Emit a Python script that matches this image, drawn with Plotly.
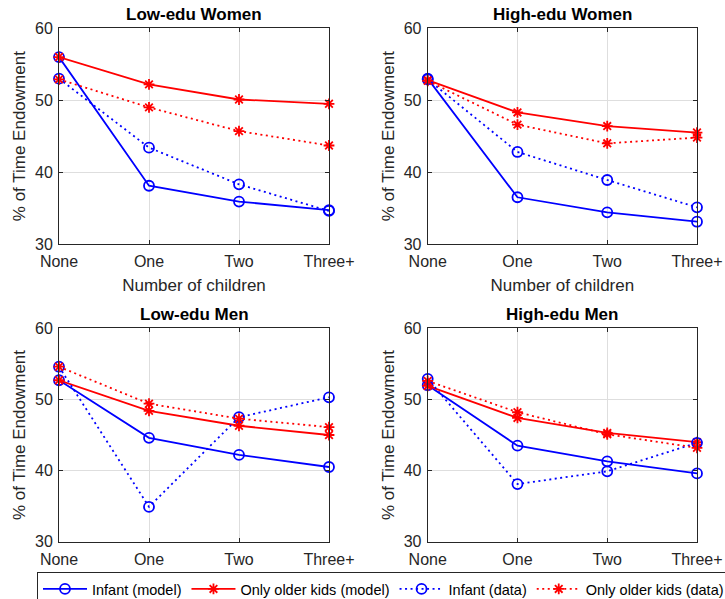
import plotly.graph_objects as go

categories = ["None", "One", "Two", "Three+"]
panel_titles = ["Low-edu Women", "High-edu Women", "Low-edu Men", "High-edu Men"]
series_names = ["Infant (model)", "Only older kids (model)", "Infant (data)", "Only older kids (data)"]

# Low-edu Women
lw_infant_model = [56.0, 38.1, 35.9, 34.7]
lw_older_model = [56.0, 52.2, 50.1, 49.5]
lw_infant_data = [53.0, 43.4, 38.3, 34.6]
lw_older_data = [52.9, 49.0, 45.7, 43.7]
# High-edu Women
hw_infant_model = [53.0, 36.5, 34.4, 33.1]
hw_older_model = [52.8, 48.3, 46.4, 45.5]
hw_infant_data = [52.9, 42.8, 38.9, 35.1]
hw_older_data = [52.7, 46.6, 44.0, 44.8]
# Low-edu Men
lm_infant_model = [52.7, 44.6, 42.2, 40.5]
lm_older_model = [52.7, 48.4, 46.3, 45.0]
lm_infant_data = [54.6, 34.9, 47.5, 50.3]
lm_older_data = [54.6, 49.4, 47.3, 46.1]
# High-edu Men
hm_infant_model = [52.0, 43.5, 41.3, 39.6]
hm_older_model = [51.9, 47.4, 45.3, 44.0]
hm_infant_data = [52.9, 38.1, 39.9, 43.9]
hm_older_data = [52.6, 48.2, 45.1, 43.2]

panels = [
    [lw_infant_model, lw_older_model, lw_infant_data, lw_older_data],
    [hw_infant_model, hw_older_model, hw_infant_data, hw_older_data],
    [lm_infant_model, lm_older_model, lm_infant_data, lm_older_data],
    [hm_infant_model, hm_older_model, hm_infant_data, hm_older_data],
]

W, H = 725, 599
FONT = "Liberation Sans, Arial, sans-serif"
AX = "#262626"
GRID = "#dedede"

# axes boxes in page pixel coords (left, right, top, bottom)
boxes = [(59, 329, 28.3, 244), (427.7, 697, 28.3, 244),
         (59, 329, 328.3, 541.7), (427.7, 697, 328.3, 541.7)]


def px(v):
    return v / W


def py(v):
    return (H - v) / H


styles = [
    dict(color="#0000ff", dash="solid", symbol="circle-open", size=10),
    dict(color="#ff0000", dash="solid", symbol="asterisk-open", size=9),
    dict(color="#0000ff", dash="2px,3.5px", symbol="circle-open", size=10),
    dict(color="#ff0000", dash="2px,3.5px", symbol="asterisk-open", size=9),
]

fig = go.Figure()
layout = {}
annotations = []
for i, (vals, box) in enumerate(zip(panels, boxes)):
    n = "" if i == 0 else str(i + 1)
    for j, (ys, st) in enumerate(zip(vals, styles)):
        fig.add_trace(go.Scatter(
            x=categories, y=ys, xaxis="x" + n, yaxis="y" + n,
            name=series_names[j], showlegend=(i == 0), mode="lines+markers",
            cliponaxis=False,
            line=dict(color=st["color"], width=1.8, dash=st["dash"]),
            marker=dict(symbol=st["symbol"], size=st["size"], color=st["color"],
                        line=dict(color=st["color"], width=1.8)),
        ))
    l, r, t, b = box
    xd = [px(l), px(r)]
    yd = [py(b), py(t)]
    common = dict(showline=True, linecolor=AX, linewidth=1, mirror="ticks",
                  ticks="inside", ticklen=4, tickcolor=AX, tickwidth=1,
                  showgrid=True, gridcolor=GRID, gridwidth=1, zeroline=False,
                  automargin=False,
                  tickfont=dict(family=FONT, size=16, color=AX))
    xa = dict(common, domain=xd, anchor="y" + n, type="category",
              categoryorder="array", categoryarray=categories, range=[0, 3],
              ticklabelstandoff=3)
    if i < 2:
        xa["title"] = dict(text="Number of children", standoff=9,
                           font=dict(family=FONT, size=17, color=AX))
    ya = dict(common, domain=yd, anchor="x" + n, range=[30, 60],
              tickvals=[30, 40, 50, 60], ticklabelstandoff=2,
              title=dict(text="% of Time Endowment", standoff=4.5,
                         font=dict(family=FONT, size=17, color=AX)))
    layout["xaxis" + n] = xa
    layout["yaxis" + n] = ya
    annotations.append(dict(text="<b>" + panel_titles[i] + "</b>", xref="paper", yref="paper",
                            x=px((l + r) / 2), y=py(t - 14), xanchor="center",
                            yanchor="middle", showarrow=False,
                            font=dict(family=FONT, size=17, color="#000000")))

fig.update_layout(
    width=W, height=H, margin=dict(l=0, r=0, t=0, b=0, autoexpand=False),
    paper_bgcolor="white", plot_bgcolor="white",
    annotations=annotations,
    legend=dict(orientation="h", x=px(37), y=py(572), xanchor="left", yanchor="top",
                bgcolor="white", bordercolor=AX, borderwidth=1,
                font=dict(family=FONT, size=14.5, color="#000000"),
                itemwidth=44, tracegroupgap=0),
    **layout,
)

fig.write_html("out.html", config={"displayModeBar": False},
               post_script="document.body.style.margin='0px';")
